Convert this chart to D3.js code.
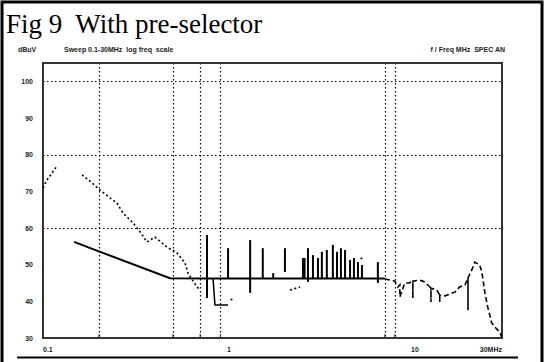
<!DOCTYPE html>
<html>
<head>
<meta charset="utf-8">
<script src="https://cdn.jsdelivr.net/npm/d3@7"></script>
<style>
  body { margin: 0; background: #fff; }
  svg { display: block; }
  text { white-space: pre; }
  .tiny { font-family: "Liberation Sans", Arial, sans-serif; font-size: 7px; font-weight: bold; fill: #222; }
</style>
</head>
<body>
<div id="chart"></div>
<script>
// y ticks (dBuV) and x ticks (MHz)
const yTicks = [30, 40, 50, 60, 70, 80, 90, 100];
const yGrid = [60, 80, 100];
const xLabels = [{ f: 0.1, t: '0.1' }, { f: 1, t: '1' }, { f: 10, t: '10' }];
const xGrid = [0.2, 0.5, 0.7, 0.9, 6.9, 7.8];

// with pre-selector: sloping floor then flat
const floorFreq = [0.147, 0.198, 0.482, 0.8, 6.9];
const floorDb = [56.2, 53.7, 46.3, 46.2, 46.2];

// station spikes
const spikeFreq = [0.762, 0.989, 1.30, 1.52, 1.73, 2.00, 2.50, 2.55, 2.66, 2.83, 3.01, 3.16, 3.36, 3.62, 3.81, 4.00, 4.21, 4.48, 4.70, 4.94, 5.19, 6.32];
const spikeTop = [58.1, 54.5, 56.7, 54.5, 47.7, 54.5, 51.8, 51.8, 54.5, 52.6, 51.8, 53.5, 54.0, 55.4, 53.5, 54.5, 54.0, 51.3, 51.8, 50.7, 49.9, 50.7];
const spikeLow = [40.9, 46.2, 42.3, 46.2, 46.2, 48.0, 46.2, 46.2, 45.3, 46.2, 46.2, 46.2, 46.2, 46.2, 46.2, 46.2, 46.2, 46.2, 46.2, 46.2, 46.2, 45.0];

// dip below the floor around 1 MHz
const dipFreq = [0.821, 0.841, 0.989];
const dipDb = [46.2, 39.0, 39.0];

// upper HF part of the trace
const tailFreq = [6.9, 7.34, 7.8, 8.1, 8.3, 8.3, 8.55, 8.83, 9.3, 9.75, 9.75, 9.75, 10.6, 11.3, 12.2, 12.2, 12.2, 13.1, 13.6, 13.6, 13.6, 14.5, 16.4, 17.4, 18.6, 19.3, 19.3, 19.3, 20.2, 21.0, 22.3, 22.9, 23.8, 24.7, 25.9, 26.9, 28.6, 29.4];
const tailDb = [46.1, 45.8, 45.5, 43.9, 44.5, 41.2, 43.1, 45.0, 45.0, 45.5, 40.9, 45.5, 45.8, 45.3, 43.6, 39.8, 43.6, 43.1, 41.7, 39.8, 41.7, 41.5, 42.5, 43.9, 44.5, 46.4, 37.6, 46.4, 48.5, 50.7, 49.9, 48.0, 42.3, 38.2, 34.1, 33.0, 31.6, 30.0];

// without pre-selector (dotted trace), null = gap
const rawFreq = [0.100, 0.105, 0.109, 0.119, null, 0.162, 0.179, 0.202, 0.229, 0.250, 0.269, 0.305, 0.333, 0.362, 0.400, 0.464, 0.525, 0.580, 0.602, 0.673, 0.699, null, 1.02, 1.06, null, 2.13, 2.41, null, 5.1, 5.3];
const rawDb = [70.9, 73.1, 74.2, 76.9, null, 74.5, 72.8, 70.4, 68.2, 66.8, 64.1, 61.4, 58.9, 56.2, 57.5, 54.8, 53.2, 50.5, 47.7, 43.9, 43.1, null, 40.6, 40.2, null, 43.1, 43.9, null, 51.8, 51.5];

const width = 545, height = 362;
const margin = { top: 63, right: 43, bottom: 24, left: 43 };

const svg = d3.select('#chart').append('svg')
    .attr('width', width)
    .attr('height', height);

svg.append('rect').attr('width', width).attr('height', height).attr('fill', '#fff');

// page frame
svg.append('path')
    .attr('d', `M2,${height} V2 H542 V${height}`)
    .attr('fill', 'none').attr('stroke', '#000').attr('stroke-width', 3);
svg.append('line')
    .attr('x1', 17).attr('x2', 518).attr('y1', 357.5).attr('y2', 357.5)
    .attr('stroke', '#000').attr('stroke-width', 2);

svg.append('text')
    .attr('x', 6).attr('y', 33)
    .attr('font-family', '"Liberation Serif", "Times New Roman", serif')
    .attr('font-size', 27)
    .text('Fig 9  With pre-selector');

const x = d3.scaleLog().domain([0.1, 29.4]).range([margin.left, width - margin.right]);
const y = d3.scaleLinear().domain([30, 105]).range([height - margin.bottom, margin.top]);

const g = svg.append('g');

// grid
g.selectAll('.hgrid').data(yGrid).enter().append('line')
    .attr('x1', x.range()[0]).attr('x2', x.range()[1])
    .attr('y1', d => Math.round(y(d)) + 0.5).attr('y2', d => Math.round(y(d)) + 0.5)
    .attr('stroke', '#000').attr('stroke-width', 1.2).attr('stroke-dasharray', '1.5,2.5');
g.selectAll('.vgrid').data(xGrid).enter().append('line')
    .attr('x1', d => Math.round(x(d)) + 0.5).attr('x2', d => Math.round(x(d)) + 0.5)
    .attr('y1', y.range()[1]).attr('y2', y.range()[0])
    .attr('stroke', '#000').attr('stroke-width', 1.2).attr('stroke-dasharray', '1.5,2.5');

// frame of plot
g.append('rect')
    .attr('x', x.range()[0]).attr('y', y.range()[1])
    .attr('width', x.range()[1] - x.range()[0]).attr('height', y.range()[0] - y.range()[1])
    .attr('fill', 'none').attr('stroke', '#333').attr('stroke-width', 2);

// small ticks on bottom axis
g.selectAll('.xtick').data(xGrid).enter().append('line')
    .attr('x1', d => x(d)).attr('x2', d => x(d))
    .attr('y1', y.range()[0]).attr('y2', y.range()[0] - 4)
    .attr('stroke', '#333');

// y labels
g.selectAll('.ylab').data(yTicks).enter().append('text')
    .attr('class', 'tiny')
    .attr('x', 33).attr('y', d => y(d) + 2.5)
    .attr('text-anchor', 'end')
    .text(d => d);

// x labels
g.selectAll('.xlab').data(xLabels).enter().append('text')
    .attr('class', 'tiny')
    .attr('x', d => x(d.f))
    .attr('y', 352)
    .attr('text-anchor', d => d.f === 0.1 ? 'start' : 'middle')
    .text(d => d.t);
g.append('text').attr('class', 'tiny')
    .attr('x', x.range()[1]).attr('y', 352).attr('text-anchor', 'end')
    .text('30MHz');

// header texts
svg.append('text').attr('class', 'tiny').attr('x', 18).attr('y', 52).text('dBuV');
svg.append('text').attr('class', 'tiny').attr('x', 64).attr('y', 52).text('Sweep 0.1-30MHz  log freq  scale');
svg.append('text').attr('class', 'tiny').attr('x', 505).attr('y', 52).attr('text-anchor', 'end').text('f / Freq MHz  SPEC AN');

const line = d3.line()
    .defined(d => d[0] !== null)
    .x(d => x(d[0]))
    .y(d => y(d[1]));

// dotted trace
g.append('path')
    .datum(d3.zip(rawFreq, rawDb))
    .attr('d', line)
    .attr('fill', 'none').attr('stroke', '#000').attr('stroke-width', 1.6)
    .attr('stroke-dasharray', '2,2.5');

// floor
g.append('path')
    .datum(d3.zip(floorFreq, floorDb))
    .attr('d', line)
    .attr('fill', 'none').attr('stroke', '#000').attr('stroke-width', 2);

g.append('path')
    .datum(d3.zip(dipFreq, dipDb))
    .attr('d', line)
    .attr('fill', 'none').attr('stroke', '#000').attr('stroke-width', 1.5);

g.selectAll('.spike').data(d3.range(spikeFreq.length)).enter().append('line')
    .attr('x1', i => x(spikeFreq[i])).attr('x2', i => x(spikeFreq[i]))
    .attr('y1', i => y(spikeTop[i])).attr('y2', i => y(spikeLow[i]))
    .attr('stroke', '#000').attr('stroke-width', 2);

g.append('path')
    .datum(d3.zip(tailFreq, tailDb))
    .attr('d', line)
    .attr('fill', 'none').attr('stroke', '#000').attr('stroke-width', 1.6)
    .attr('stroke-dasharray', '5,3');
</script>
</body>
</html>
